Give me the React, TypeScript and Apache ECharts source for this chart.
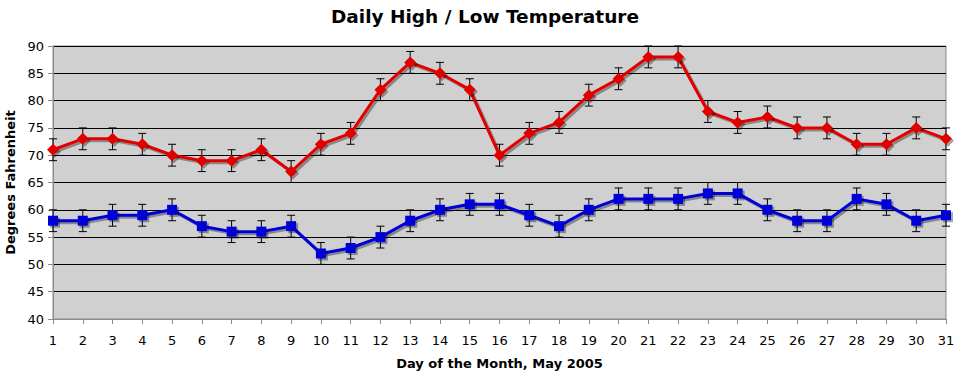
import React, { useEffect, useRef } from "react";
import * as echarts from "echarts";

const days = ["1","2","3","4","5","6","7","8","9","10","11","12","13","14","15","16","17","18","19","20","21","22","23","24","25","26","27","28","29","30","31"];
const highTemps = [71,73,73,72,70,69,69,71,67,72,74,82,87,85,82,70,74,76,81,84,88,88,78,76,77,75,75,72,72,75,73];
const lowTemps = [58,58,59,59,60,57,56,56,57,52,53,55,58,60,61,61,59,57,60,62,62,62,63,63,60,58,58,62,61,58,59];
const highErrors = [2,2,2,2,2,2,2,2,2,2,2,2,2,2,2,2,2,2,2,2,2,2,2,2,2,2,2,2,2,2,2];
const lowErrors = [2,2,2,2,2,2,2,2,2,2,2,2,2,2,2,2,2,2,2,2,2,2,2,2,2,2,2,2,2,2,2];

const FONT = "DejaVu Sans";

function errorSeries(values: number[], errs: number[]) {
  return {
    type: "custom",
    z: 1,
    silent: true,
    data: values.map((v, i) => [i, v, errs[i]]),
    encode: { x: 0, y: 1 },
    renderItem: (params: any, api: any) => {
      const x = api.value(0);
      const y = api.value(1);
      const e = api.value(2);
      const top = api.coord([x, y + e]);
      const bot = api.coord([x, y - e]);
      const hw = 4;
      const style = { stroke: "#000", lineWidth: 1 };
      return {
        type: "group",
        children: [
          { type: "line", shape: { x1: top[0], y1: top[1], x2: bot[0], y2: bot[1] }, style },
          { type: "line", shape: { x1: top[0] - hw, y1: top[1], x2: top[0] + hw, y2: top[1] }, style },
          { type: "line", shape: { x1: bot[0] - hw, y1: bot[1], x2: bot[0] + hw, y2: bot[1] }, style },
        ],
      };
    },
  };
}

export default function App() {
  const ref = useRef<HTMLDivElement>(null);
  useEffect(() => {
    if (!ref.current) return;
    const chart = echarts.init(ref.current, null, { renderer: "svg" });
    const shadow = { shadowColor: "rgba(0,0,0,0.35)", shadowOffsetX: 2, shadowOffsetY: 2, shadowBlur: 1 };
    chart.setOption({
      animation: false,
      backgroundColor: "#ffffff",
      title: {
        text: "Daily High / Low Temperature",
        left: 480,
        textAlign: "center",
        top: 2,
        textStyle: { fontFamily: FONT, fontSize: 18.5, fontWeight: "bold", color: "#000" },
      },
      grid: {
        left: 53,
        right: 10,
        top: 46,
        bottom: 56,
        containLabel: false,
        outerBoundsMode: "none",
        show: true,
        backgroundColor: "#d0d0d0",
        borderColor: "#8c8c8c",
        borderWidth: 1,
      },
      xAxis: {
        type: "category",
        data: days,
        boundaryGap: false,
        name: "Day of the Month, May 2005",
        nameLocation: "middle",
        nameGap: 38,
        nameTextStyle: { fontFamily: FONT, fontSize: 13, fontWeight: "bold", color: "#000" },
        axisLine: { show: true, lineStyle: { color: "#8c8c8c" } },
        axisTick: { show: true, alignWithLabel: true, length: 5, lineStyle: { color: "#8c8c8c" } },
        axisLabel: { fontFamily: FONT, fontSize: 13, color: "#000", margin: 15, interval: 0 },
        splitLine: { show: false },
      },
      yAxis: {
        type: "value",
        min: 40,
        max: 90,
        interval: 5,
        name: "Degrees Fahrenheit",
        nameLocation: "middle",
        nameGap: 34,
        nameTextStyle: { fontFamily: FONT, fontSize: 13, fontWeight: "bold", color: "#000" },
        axisLine: { show: true, lineStyle: { color: "#8c8c8c" } },
        axisTick: { show: true, length: 5, lineStyle: { color: "#8c8c8c" } },
        axisLabel: { fontFamily: FONT, fontSize: 13, color: "#000", margin: 9 },
        splitLine: { show: true, lineStyle: { color: "#000", width: 1 } },
      },
      series: [
        errorSeries(highTemps, highErrors),
        errorSeries(lowTemps, lowErrors),
        {
          type: "line",
          name: "High",
          data: highTemps,
          z: 3,
          symbol: "diamond",
          symbolSize: 12,
          lineStyle: { color: "#e00000", width: 3, ...shadow },
          itemStyle: { color: "#e00000", ...shadow },
        },
        {
          type: "line",
          name: "Low",
          data: lowTemps,
          z: 3,
          symbol: "rect",
          symbolSize: 10,
          lineStyle: { color: "#0000d8", width: 3, ...shadow },
          itemStyle: { color: "#0000d8", ...shadow },
        },
      ],
    });
    return () => chart.dispose();
  }, []);
  return <div ref={ref} style={{ position: "fixed", left: 0, top: 0, width: 956, height: 375 }} />;
}
